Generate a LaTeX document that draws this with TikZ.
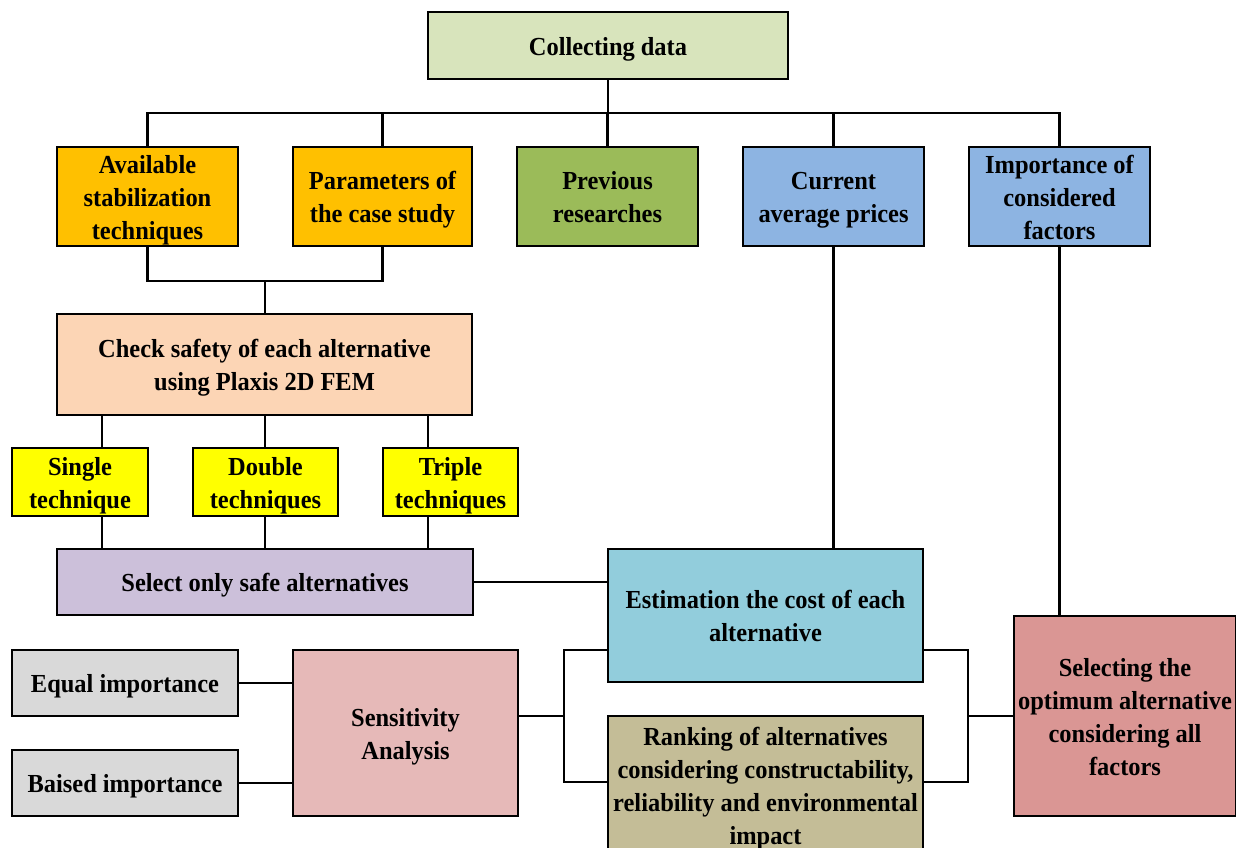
\documentclass[tikz,border=0pt]{standalone}
\usepackage{fontspec}
\setmainfont{Liberation Serif}[FakeStretch=0.94]
\definecolor{cCollect}{HTML}{D8E4BC}
\definecolor{cOrange}{HTML}{FFC000}
\definecolor{cGreen}{HTML}{9BBB59}
\definecolor{cBlue}{HTML}{8DB4E2}
\definecolor{cPeach}{HTML}{FCD5B5}
\definecolor{cYellow}{HTML}{FFFF00}
\definecolor{cLilac}{HTML}{CCC0DA}
\definecolor{cCyan}{HTML}{92CDDC}
\definecolor{cKhaki}{HTML}{C4BD97}
\definecolor{cRose}{HTML}{DA9694}
\definecolor{cPink}{HTML}{E6B9B8}
\definecolor{cGrey}{HTML}{D9D9D9}
\tikzset{
  boxnode/.style={draw=black, line width=2.2pt, inner sep=0pt, align=center,
    font=\bfseries\fontsize{26}{33}\selectfont},
  link/.style={draw=black, line width=2.2pt},
}
\newcommand{\bx}[7]{% name, x1, y1, x2, y2, color, text
  \node[boxnode, fill=#6, minimum width={#4-#2}, minimum height={#5-#3}]
    (#1) at ({(#2+#4)/2},{(#3+#5)/2}) {\raisebox{-3pt}[\height][\depth]{\begin{tabular}{@{}c@{}}#7\end{tabular}}};}
\begin{document}
\begin{tikzpicture}[x=1pt,y=-1pt]
\useasboundingbox (0,0) rectangle (1236,847);
\begin{scope}
\clip (0,0) rectangle (1236,847);
% nodes
\bx{collect}{428}{12}{788}{79}{cCollect}{Collecting data}
\bx{avail}{57}{147}{238}{246}{cOrange}{Available\\stabilization\\techniques}
\bx{param}{293}{147}{472}{246}{cOrange}{Parameters of\\the case study}
\bx{prev}{517}{147}{698}{246}{cGreen}{Previous\\researches}
\bx{current}{743}{147}{924}{246}{cBlue}{Current\\average prices}
\bx{import}{969}{147}{1150}{246}{cBlue}{Importance of\\considered\\factors}
\bx{check}{57}{314}{472}{415}{cPeach}{Check safety of each alternative\\using Plaxis 2D FEM}
\bx{single}{12}{448}{148}{516}{cYellow}{Single\\technique}
\bx{double}{193}{448}{338}{516}{cYellow}{Double\\techniques}
\bx{triple}{383}{448}{518}{516}{cYellow}{Triple\\techniques}
\bx{select}{57}{549}{473}{615}{cLilac}{Select only safe alternatives}
\bx{est}{608}{549}{923}{682}{cCyan}{Estimation the cost of each\\alternative}
\bx{rank}{608}{716}{923}{854}{cKhaki}{Ranking of alternatives\\considering constructability,\\reliability and environmental\\impact}
\bx{sel}{1014}{616}{1236}{816}{cRose}{Selecting the\\optimum alternative\\considering all\\factors}
\bx{sens}{293}{650}{518}{816}{cPink}{Sensitivity\\Analysis}
\bx{equal}{12}{650}{238}{716}{cGrey}{Equal importance}
\bx{baised}{12}{750}{238}{816}{cGrey}{Baised importance}
% coordinates
\coordinate (bus) at (608,113);
\coordinate (m1) at (265,281);
\coordinate (c1) at (102,0);
\coordinate (c2) at (265,0);
\coordinate (c3) at (428,0);
\coordinate (lbt) at (564,650);
\coordinate (lbm) at (564,716);
\coordinate (lbb) at (564,782);
\coordinate (rbt) at (968,650);
\coordinate (rbm) at (968,716);
\coordinate (rbb) at (968,782);
% connectors
\draw[link] (collect.south) -- (bus);
\draw[link] (avail.north) |- (bus) -| (import.north);
\draw[link] (param.north) -- (param.north |- bus);
\draw[link] (prev.north) -- (prev.north |- bus);
\draw[link] (current.north) -- (current.north |- bus);
\draw[link] (avail.south) |- (m1) -| (param.south);
\draw[link] (m1) -- (m1 |- check.north);
\draw[link] (check.south -| c1) -- (single.north -| c1);
\draw[link] (check.south -| c2) -- (double.north -| c2);
\draw[link] (check.south -| c3) -- (triple.north -| c3);
\draw[link] (single.south -| c1) -- (select.north -| c1);
\draw[link] (double.south -| c2) -- (select.north -| c2);
\draw[link] (triple.south -| c3) -- (select.north -| c3);
\draw[link] (select.east) -- (select.east -| est.west);
\draw[link] (current.south) -- (current.south |- est.north);
\draw[link] (import.south) -- (import.south |- sel.north);
\draw[link] (equal.east) -- (equal.east -| sens.west);
\draw[link] (baised.east) -- (baised.east -| sens.west);
\draw[link] (lbm -| sens.east) -- (lbm);
\draw[link] (lbt -| est.west) -- (lbt) -- (lbb) -- (lbb -| rank.west);
\draw[link] (rbt -| est.east) -- (rbt) -- (rbb) -- (rbb -| rank.east);
\draw[link] (rbm) -- (rbm -| sel.west);
\end{scope}
\end{tikzpicture}
\end{document}
